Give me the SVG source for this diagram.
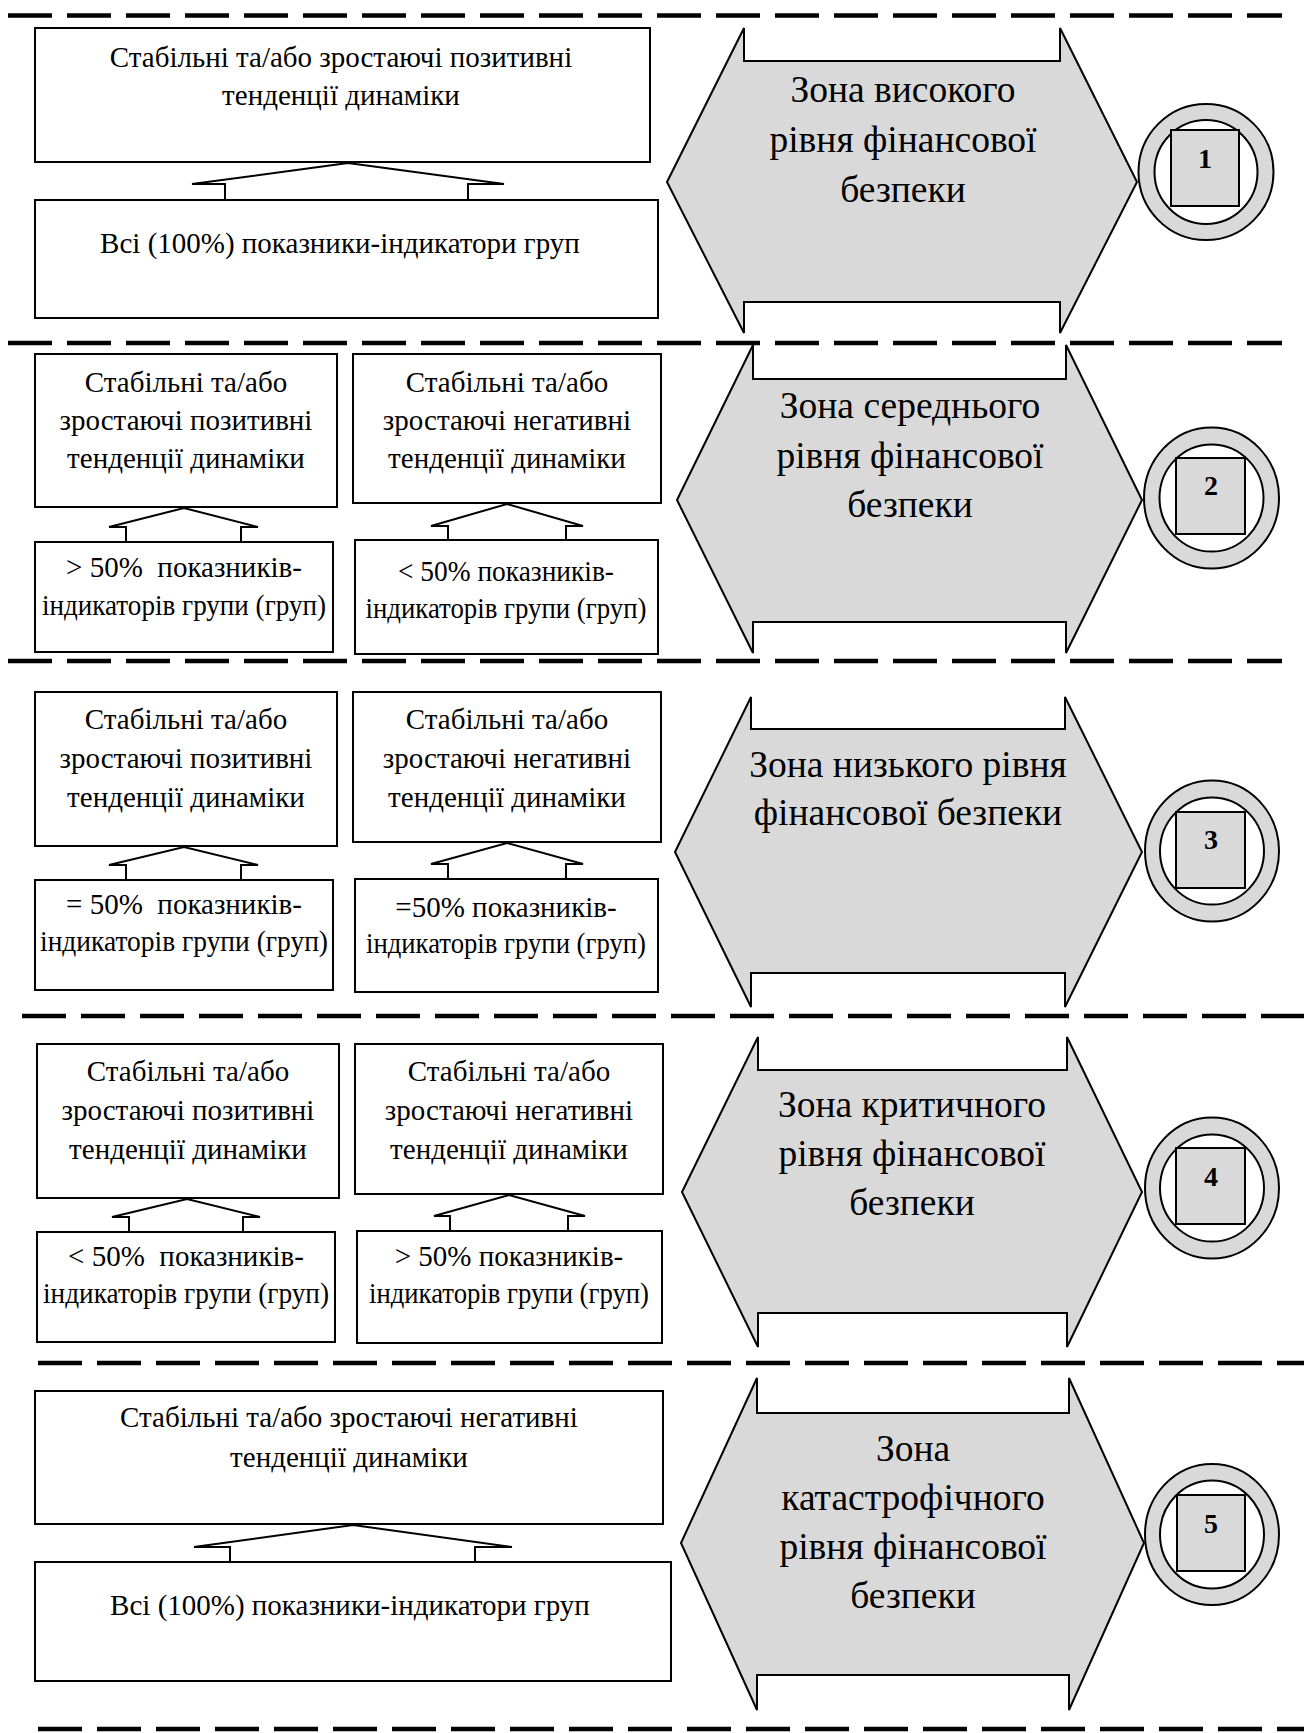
<svg xmlns="http://www.w3.org/2000/svg" width="1304" height="1733" viewBox="0 0 1304 1733">
<style>
.dash{stroke:#000;stroke-width:4.5;stroke-dasharray:44 15;fill:none}
.box{fill:#fff;stroke:#000;stroke-width:2}
.con{fill:#fff;stroke:#000;stroke-width:2;stroke-linejoin:miter}
.arr{fill:#d9d9d9;stroke:#000;stroke-width:2}
.ring{fill:#d9d9d9;stroke:#000;stroke-width:2}
.inner{fill:#fff;stroke:#000;stroke-width:2}
.sq{fill:#d9d9d9;stroke:#000;stroke-width:2}
.t{font-family:"Liberation Serif","Times New Roman",serif;font-size:29px;fill:#000;text-anchor:middle;white-space:pre}
.z{font-family:"Liberation Serif","Times New Roman",serif;font-size:37.5px;fill:#000;text-anchor:middle}
.n{font-family:"Liberation Serif","Times New Roman",serif;font-size:28px;font-weight:bold;fill:#000;text-anchor:middle}
</style>
<rect width="1304" height="1733" fill="#fff"/>
<g id="separators">
<line class="dash" x1="8" y1="15.5" x2="1282" y2="15.5"/>
<line class="dash" x1="8" y1="343" x2="1282" y2="343"/>
<line class="dash" x1="8" y1="661" x2="1282" y2="661"/>
<line class="dash" x1="22" y1="1016" x2="1304" y2="1016"/>
<line class="dash" x1="38" y1="1363" x2="1304" y2="1363"/>
<line class="dash" x1="38" y1="1729" x2="1304" y2="1729"/>
</g>
<g id="connectors">
<polyline class="con" points="225,200 225,184 192,184 348,163 504,184 468,184 468,200"/>
<polyline class="con" points="126,542 126,527 109,527 184,508 258,527 241,527 241,542"/>
<polyline class="con" points="448,540 448,526 431,526 507,504 583,526 566,526 566,540"/>
<polyline class="con" points="126,880 126,865 109,865 184,847 258,865 241,865 241,880"/>
<polyline class="con" points="448,879 448,864 431,864 507,843 583,864 566,864 566,879"/>
<polyline class="con" points="129,1232 129,1217 112,1217 187,1199 260,1217 243,1217 243,1232"/>
<polyline class="con" points="450,1231 450,1216 434,1216 509,1195 585,1216 568,1216 568,1231"/>
<polyline class="con" points="230,1562 230,1547 194,1547 353,1525 512,1547 475,1547 475,1562"/>
</g>
<!-- Section 1 -->
<g id="s1-top"><rect class="box" x="35" y="28" width="615" height="134"/>
<text class="t" x="341" y="67">Стабільні та/або зростаючі позитивні</text>
<text class="t" x="341" y="105">тенденції динаміки</text></g>
<g id="s1-bottom"><rect class="box" x="35" y="200" width="623" height="118"/>
<text class="t" x="340" y="253">Всі (100%) показники-індикатори груп</text></g>
<g id="zone1"><polygon class="arr" points="667,182 744,28 744,61 1060,61 1060,28 1137,182 1060,333 1060,302 744,302 744,333"/>
<text class="z" x="903" y="102">Зона високого</text>
<text class="z" x="903" y="152">рівня фінансової</text>
<text class="z" x="903" y="202">безпеки</text></g>
<g id="badge1"><ellipse class="ring" cx="1206" cy="172" rx="67.5" ry="68"/>
<ellipse class="inner" cx="1206" cy="172" rx="51.5" ry="52"/>
<rect class="sq" x="1171" y="130" width="68" height="76"/>
<text class="n" x="1205" y="168">1</text></g>
<!-- Section 2 -->
<g id="s2-top-left"><rect class="box" x="35" y="354" width="302" height="153"/>
<text class="t" x="186" y="392">Стабільні та/або</text>
<text class="t" x="186" y="430">зростаючі позитивні</text>
<text class="t" x="186" y="468">тенденції динаміки</text></g>
<g id="s2-top-right"><rect class="box" x="353" y="354" width="308" height="149"/>
<text class="t" x="507" y="392">Стабільні та/або</text>
<text class="t" x="507" y="430">зростаючі негативні</text>
<text class="t" x="507" y="468">тенденції динаміки</text></g>
<g id="s2-bottom-left"><rect class="box" x="35" y="542" width="298" height="110"/>
<text class="t" x="184" y="577" xml:space="preserve">&gt; 50%  показників-</text>
<text class="t" x="184" y="615" textLength="284" lengthAdjust="spacingAndGlyphs">індикаторів групи (груп)</text></g>
<g id="s2-bottom-right"><rect class="box" x="355" y="540" width="303" height="114"/>
<text class="t" x="506" y="581" textLength="216" lengthAdjust="spacingAndGlyphs">&lt; 50% показників-</text>
<text class="t" x="506" y="618" textLength="281" lengthAdjust="spacingAndGlyphs">індикаторів групи (груп)</text></g>
<g id="zone2"><polygon class="arr" points="677,500 753,345 753,379 1066,379 1066,345 1142,500 1066,653 1066,622 753,622 753,653"/>
<text class="z" x="910" y="418">Зона середнього</text>
<text class="z" x="910" y="468">рівня фінансової</text>
<text class="z" x="910" y="517">безпеки</text></g>
<g id="badge2"><ellipse class="ring" cx="1211.5" cy="498" rx="67.5" ry="70.5"/>
<ellipse class="inner" cx="1211.5" cy="498" rx="52" ry="53.5"/>
<rect class="sq" x="1176" y="458" width="69" height="76"/>
<text class="n" x="1211" y="495">2</text></g>
<!-- Section 3 -->
<g id="s3-top-left"><rect class="box" x="35" y="692" width="302" height="154"/>
<text class="t" x="186" y="729">Стабільні та/або</text>
<text class="t" x="186" y="768">зростаючі позитивні</text>
<text class="t" x="186" y="807">тенденції динаміки</text></g>
<g id="s3-top-right"><rect class="box" x="353" y="692" width="308" height="150"/>
<text class="t" x="507" y="729">Стабільні та/або</text>
<text class="t" x="507" y="768">зростаючі негативні</text>
<text class="t" x="507" y="807">тенденції динаміки</text></g>
<g id="s3-bottom-left"><rect class="box" x="35" y="880" width="298" height="110"/>
<text class="t" x="184" y="914" xml:space="preserve">= 50%  показників-</text>
<text class="t" x="184" y="951" textLength="288" lengthAdjust="spacingAndGlyphs">індикаторів групи (груп)</text></g>
<g id="s3-bottom-right"><rect class="box" x="355" y="879" width="303" height="113"/>
<text class="t" x="506" y="917">=50% показників-</text>
<text class="t" x="506" y="953" textLength="280" lengthAdjust="spacingAndGlyphs">індикаторів групи (груп)</text></g>
<g id="zone3"><polygon class="arr" points="675,852 751,697 751,729 1065,729 1065,697 1142,852 1065,1007 1065,973 751,973 751,1007"/>
<text class="z" x="908" y="777">Зона низького рівня</text>
<text class="z" x="908" y="825">фінансової безпеки</text></g>
<g id="badge3"><ellipse class="ring" cx="1212" cy="851" rx="67" ry="70.5"/>
<ellipse class="inner" cx="1212" cy="851" rx="52" ry="53.5"/>
<rect class="sq" x="1176" y="812" width="69" height="76"/>
<text class="n" x="1211" y="849">3</text></g>
<!-- Section 4 -->
<g id="s4-top-left"><rect class="box" x="37" y="1044" width="302" height="154"/>
<text class="t" x="188" y="1081">Стабільні та/або</text>
<text class="t" x="188" y="1120">зростаючі позитивні</text>
<text class="t" x="188" y="1159">тенденції динаміки</text></g>
<g id="s4-top-right"><rect class="box" x="355" y="1044" width="308" height="150"/>
<text class="t" x="509" y="1081">Стабільні та/або</text>
<text class="t" x="509" y="1120">зростаючі негативні</text>
<text class="t" x="509" y="1159">тенденції динаміки</text></g>
<g id="s4-bottom-left"><rect class="box" x="37" y="1232" width="298" height="110"/>
<text class="t" x="186" y="1266" xml:space="preserve">&lt; 50%  показників-</text>
<text class="t" x="186" y="1303" textLength="286" lengthAdjust="spacingAndGlyphs">індикаторів групи (груп)</text></g>
<g id="s4-bottom-right"><rect class="box" x="357" y="1231" width="305" height="112"/>
<text class="t" x="509" y="1266">&gt; 50% показників-</text>
<text class="t" x="509" y="1303" textLength="280" lengthAdjust="spacingAndGlyphs">індикаторів групи (груп)</text></g>
<g id="zone4"><polygon class="arr" points="682,1192 758,1037 758,1070 1067,1070 1067,1037 1142,1192 1067,1347 1067,1313 758,1313 758,1347"/>
<text class="z" x="912" y="1117">Зона критичного</text>
<text class="z" x="912" y="1166">рівня фінансової</text>
<text class="z" x="912" y="1215">безпеки</text></g>
<g id="badge4"><ellipse class="ring" cx="1212" cy="1188" rx="67" ry="70.5"/>
<ellipse class="inner" cx="1212" cy="1188" rx="52" ry="53.5"/>
<rect class="sq" x="1176" y="1148" width="69" height="76"/>
<text class="n" x="1211" y="1186">4</text></g>
<!-- Section 5 -->
<g id="s5-top"><rect class="box" x="35" y="1391" width="628" height="133"/>
<text class="t" x="349" y="1427">Стабільні та/або зростаючі негативні</text>
<text class="t" x="349" y="1467">тенденції динаміки</text></g>
<g id="s5-bottom"><rect class="box" x="35" y="1562" width="636" height="119"/>
<text class="t" x="350" y="1615">Всі (100%) показники-індикатори груп</text></g>
<g id="zone5"><polygon class="arr" points="681,1543 757,1378 757,1413 1069,1413 1069,1378 1144,1543 1069,1710 1069,1675 757,1675 757,1710"/>
<text class="z" x="913" y="1461">Зона</text>
<text class="z" x="913" y="1510">катастрофічного</text>
<text class="z" x="913" y="1559">рівня фінансової</text>
<text class="z" x="913" y="1608">безпеки</text></g>
<g id="badge5"><ellipse class="ring" cx="1212" cy="1534.5" rx="67" ry="70.5"/>
<ellipse class="inner" cx="1212" cy="1534.5" rx="52" ry="54"/>
<rect class="sq" x="1177" y="1495" width="68" height="76"/>
<text class="n" x="1211" y="1533">5</text></g>
</svg>
